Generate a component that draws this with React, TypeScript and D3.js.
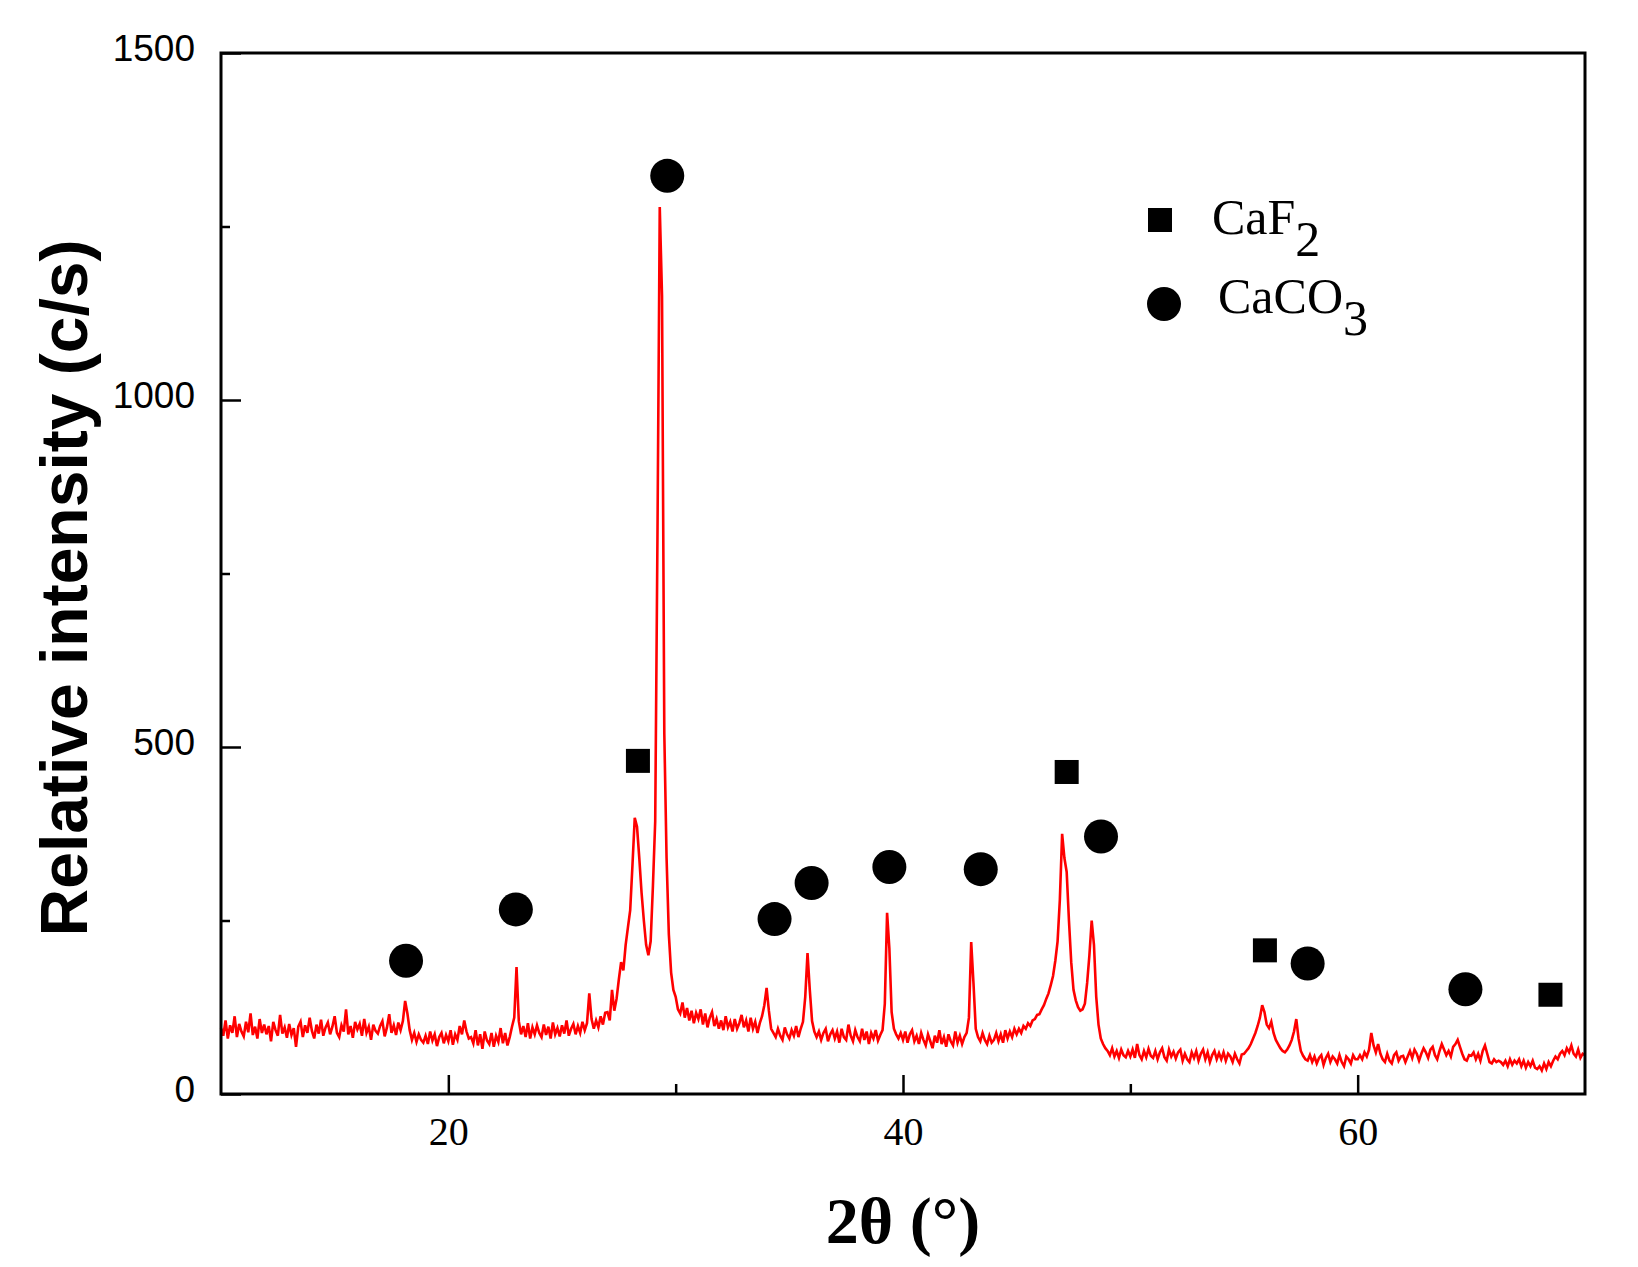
import React, { useRef, useEffect } from 'react';
import * as d3 from 'd3';

// XRD scan, 10–70° 2θ at a 0.1° step (one row per degree)
const scanStart = 10;
const scanStep = 0.1;
const intensity: number[] = [
  95, 84, 106, 80, 99, 88, 112, 82, 101, 90,
  83, 104, 89, 116, 85, 97, 80, 108, 88, 100,
  86, 98, 76, 104, 92, 84, 114, 87, 96, 81,
  101, 85, 95, 68, 97, 104, 82, 99, 88, 110,
  91, 80, 100, 87, 107, 84, 96, 103, 86, 97,
  112, 88, 82, 99, 90, 122, 86, 98, 81, 104,
  93, 101, 84, 108, 88, 97, 78, 100, 91, 87,
  98, 105, 83, 96, 115, 88, 99, 85, 103, 92,
  105, 134, 116, 92, 78, 88, 75, 86, 78, 74,
  84, 72, 90, 77, 86, 69, 82, 88, 73, 85,
  76, 92, 71, 86, 78, 98, 86, 106, 90, 80,
  82, 73, 92, 70, 86, 65, 90, 77, 72, 88,
  68, 84, 75, 95, 73, 88, 70, 82, 97, 110,
  183, 105, 86, 98, 82, 102, 80, 96, 86, 99,
  88, 82, 100, 85, 97, 80, 103, 86, 95, 83,
  99, 87, 106, 84, 94, 101, 86, 98, 88, 104,
  92, 102, 145, 108, 94, 106, 96, 112, 100, 117,
  118, 106, 150, 120, 137, 165, 190, 178, 215, 240,
  265, 330, 398, 385, 340, 290, 250, 215, 200, 220,
  300, 393, 806, 1278, 1150, 520, 340, 230, 175, 150,
  140, 122, 116, 132, 110, 124, 106, 120, 102, 117,
  108, 122, 100, 116, 96, 110, 118, 98, 108, 94,
  106, 92, 112, 96, 104, 90, 108, 94, 102, 114,
  96, 106, 90, 110, 94, 104, 88, 102, 112, 128,
  153, 120, 94, 88, 82, 94, 84, 78, 96, 86,
  80, 92, 84, 98, 82, 94, 104, 140, 203, 150,
  105, 90, 82, 90, 78, 88, 94, 76, 86, 92,
  80, 90, 74, 94, 82, 78, 100, 84, 76, 92,
  82, 76, 94, 78, 90, 72, 88, 80, 92, 77,
  85, 92, 130, 261, 210, 118, 94, 86, 80, 88,
  78, 90, 74, 86, 92, 76, 84, 72, 88, 78,
  70, 86, 76, 66, 84, 74, 92, 72, 82, 68,
  86, 76, 70, 90, 74, 84, 72, 82, 88, 110,
  219, 160, 94, 82, 76, 88, 78, 72, 84, 74,
  78, 88, 76, 86, 74, 92, 80, 90, 82, 94,
  86, 94, 88, 98, 94, 102, 98, 106, 108, 114,
  115, 122, 128, 137, 145, 157, 170, 192, 220, 280,
  375, 340, 320, 250, 190, 150, 135, 125, 120, 122,
  130, 160, 200, 250, 215, 140, 100, 80, 72, 66,
  62, 56, 66, 54, 62, 52, 64, 56, 53, 62,
  54, 64, 52, 72, 56, 50, 62, 53, 65, 55,
  52, 62, 50, 60, 66, 53, 48, 64, 54, 61,
  51, 60, 64, 48, 58, 50, 46, 60, 52, 62,
  48, 58, 64, 50, 60, 46, 56, 62, 50, 59,
  50, 60, 48, 58, 54, 46, 58, 50, 44, 57,
  58, 62, 66, 72, 80, 88, 98, 110, 128, 118,
  100, 95, 104, 88, 78, 72, 66, 62, 60, 64,
  70, 78, 90, 108, 80, 62, 55, 50, 48, 56,
  46, 54, 44, 52, 56, 42, 52, 58, 46, 54,
  50, 44, 56, 46, 40, 54, 50, 44, 56, 50,
  50, 56, 50, 60, 54, 64, 88, 70, 60, 72,
  58, 50, 46, 58, 48, 44, 56, 60, 48, 54,
  55, 46, 54, 62, 52, 64, 58, 48, 58, 66,
  60, 52, 64, 68, 56, 50, 62, 72, 64, 56,
  62, 54, 68, 72, 78, 68, 58, 50, 48, 56,
  55, 60, 50, 58, 48, 62, 70, 58, 46, 44,
  50, 46, 48, 46, 42, 48, 40, 50, 42, 48,
  44, 50, 40, 48, 38, 46, 40, 48, 38, 36,
  40, 34, 44, 36, 46, 40, 48, 54, 50, 58,
  62, 56, 66, 60, 70, 58, 54, 64, 52, 58,
  56,
];

// phase markers (2θ, height where the symbol sits)
const caco3Angles = [18.14, 22.97, 29.63, 34.35, 35.98, 39.4, 43.42, 48.71, 57.8, 64.74];
const caco3Heights = [192, 266, 1323, 252, 304, 327, 324, 371, 188, 151];
const caf2Angles = [28.34, 47.2, 55.92, 68.48];
const caf2Heights = [480, 464, 207, 143];

const xMajorTicks = [20, 40, 60];
const xMinorTicks = [30, 50];
const yMajorTicks = [0, 500, 1000, 1500];
const yMinorTicks = [250, 750, 1250];

const W = 1638;
const H = 1267;
const margin = { left: 221, right: 53, top: 53, bottom: 173 };

const App: React.FC = () => {
  const svgRef = useRef<SVGSVGElement | null>(null);

  useEffect(() => {
    if (!svgRef.current) return;
    const svg = d3.select(svgRef.current);
    svg.selectAll('*').remove();

    const iw = W - margin.left - margin.right;
    const ih = H - margin.top - margin.bottom;

    const x = d3.scaleLinear().domain([10, 70]).range([0, iw]);
    const y = d3.scaleLinear().domain([0, 1500]).range([ih, 0]);

    const g = svg.append('g').attr('transform', `translate(${margin.left},${margin.top})`);

    const points = intensity.map((v, i) => [scanStart + i * scanStep, v] as [number, number]);
    const line = d3.line<[number, number]>()
      .x(d => x(d[0]))
      .y(d => y(d[1]));

    g.append('path')
      .datum(points)
      .attr('d', line)
      .attr('fill', 'none')
      .attr('stroke', '#ff0000')
      .attr('stroke-width', 2.6)
      .attr('stroke-linejoin', 'miter');

    // axes (inward ticks)
    const xAxis = g.append('g').attr('transform', `translate(0,${ih})`)
      .call(d3.axisBottom(x).tickValues(xMajorTicks).tickSize(-19).tickPadding(23).tickFormat(d3.format('d')));
    xAxis.selectAll('text')
      .attr('font-family', '"Liberation Serif", serif')
      .attr('font-size', 40)
      .attr('fill', '#000');
    g.append('g').attr('transform', `translate(0,${ih})`)
      .call(d3.axisBottom(x).tickValues(xMinorTicks).tickSize(-10).tickFormat(() => ''));

    const yAxis = g.append('g')
      .call(d3.axisLeft(y).tickValues(yMajorTicks).tickSize(-20).tickPadding(26).tickFormat(d3.format('d')));
    yAxis.selectAll('text')
      .attr('font-family', '"Liberation Sans", Arial, sans-serif')
      .attr('font-size', 37)
      .attr('dy', '0.19em')
      .attr('fill', '#000');
    g.append('g')
      .call(d3.axisLeft(y).tickValues(yMinorTicks).tickSize(-9).tickFormat(() => ''));

    g.selectAll('.domain').remove();
    g.selectAll('.tick line').attr('stroke', '#000').attr('stroke-width', 2.5);

    g.append('rect')
      .attr('width', iw)
      .attr('height', ih)
      .attr('fill', 'none')
      .attr('stroke', '#000')
      .attr('stroke-width', 3);

    // markers
    g.selectAll('circle.caco3')
      .data(caco3Angles)
      .enter()
      .append('circle')
      .attr('class', 'caco3')
      .attr('cx', d => x(d))
      .attr('cy', (d, i) => y(caco3Heights[i]))
      .attr('r', 17)
      .attr('fill', '#000');

    const sq = 24;
    g.selectAll('rect.caf2')
      .data(caf2Angles)
      .enter()
      .append('rect')
      .attr('class', 'caf2')
      .attr('x', d => x(d) - sq / 2)
      .attr('y', (d, i) => y(caf2Heights[i]) - sq / 2)
      .attr('width', sq)
      .attr('height', sq)
      .attr('fill', '#000');

    // legend
    const leg = svg.append('g').attr('font-family', '"Liberation Serif", serif').attr('font-size', 50);
    leg.append('rect').attr('x', 1148).attr('y', 208).attr('width', sq).attr('height', sq).attr('fill', '#000');
    const t1 = leg.append('text').attr('x', 1212).attr('y', 234);
    t1.append('tspan').text('CaF');
    t1.append('tspan').attr('dy', 22).text('2');
    leg.append('circle').attr('cx', 1164).attr('cy', 304).attr('r', 17).attr('fill', '#000');
    const t2 = leg.append('text').attr('x', 1218).attr('y', 313);
    t2.append('tspan').text('CaCO');
    t2.append('tspan').attr('dy', 22).text('3');

    // axis titles
    svg.append('text')
      .attr('x', margin.left + iw / 2)
      .attr('y', 1243)
      .attr('text-anchor', 'middle')
      .attr('font-family', '"Liberation Serif", serif')
      .attr('font-weight', 'bold')
      .attr('font-size', 66)
      .text('2θ (°)');

    svg.append('text')
      .attr('transform', 'translate(87,588) rotate(-90)')
      .attr('text-anchor', 'middle')
      .attr('font-family', '"Liberation Sans", Arial, sans-serif')
      .attr('font-weight', 'bold')
      .attr('font-size', 66)
      .text('Relative intensity (c/s)');
  }, []);

  return (
    <svg
      ref={svgRef}
      width={W}
      height={H}
      style={{ position: 'absolute', left: 0, top: 0, background: '#fff' }}
    />
  );
};

export default App;
